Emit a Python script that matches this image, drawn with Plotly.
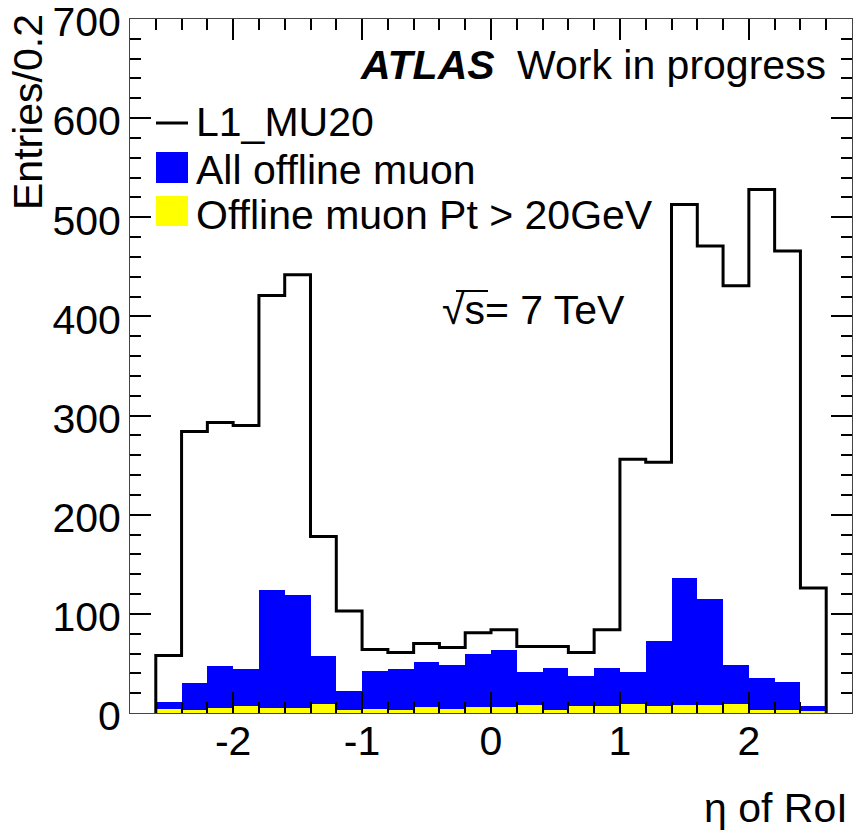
import plotly.graph_objects as go

# ---- data ----
eta_edges = [-2.6, -2.4, -2.2, -2.0, -1.8, -1.6, -1.4, -1.2, -1.0, -0.8, -0.6, -0.4, -0.2,
             0.0, 0.2, 0.4, 0.6, 0.8, 1.0, 1.2, 1.4, 1.6, 1.8, 2.0, 2.2, 2.4, 2.6]
l1_mu20 = [58, 284, 293, 290, 421, 442, 178, 103, 64, 61, 70, 66, 81,
           84, 67, 67, 61, 84, 256, 253, 513, 471, 431, 528, 466, 126]
all_offline = [11, 30, 47, 44, 124, 119, 57, 22, 42, 44, 51, 48, 60,
               64, 41, 45, 37, 45, 41, 73, 136, 115, 48, 35, 31, 7]
offline_pt20 = [4, 3, 5, 7, 5, 5, 9, 3, 4, 3, 6, 4, 6,
                6, 8, 3, 7, 7, 9, 7, 8, 8, 9, 3, 3, 2]
x_tickvals = [-2, -1, 0, 1, 2]
x_ticktext = ["-2", "-1", "0", "1", "2"]

centers = [(a + b) / 2 for a, b in zip(eta_edges[:-1], eta_edges[1:])]
widths = [b - a for a, b in zip(eta_edges[:-1], eta_edges[1:])]

# step outline for the L1 histogram
step_x = [eta_edges[0]] + eta_edges
step_y = [0] + l1_mu20 + [0]

FONT = "Liberation Sans, Arial, sans-serif"
FS = 41

W, H = 853, 830
ML, MR, MT, MB = 130, 1, 19, 117
PW, PH = W - ML - MR, H - MT - MB


def px(x):
    return (x - ML) / PW


def py(y):
    return (H - MB - y) / PH


fig = go.Figure()
fig.add_trace(go.Bar(x=centers, y=all_offline, width=widths, marker=dict(color="#0000ff", line=dict(width=0)),
                     name="All offline muon", showlegend=False))
fig.add_trace(go.Bar(x=centers, y=offline_pt20, width=widths, marker=dict(color="#ffff00", line=dict(width=0)),
                     name="Offline muon Pt > 20GeV", showlegend=False))
fig.add_trace(go.Scatter(x=step_x, y=step_y, mode="lines", line=dict(shape="hv", color="black", width=3),
                         name="L1_MU20", showlegend=False))

axis_common = dict(showline=True, linecolor="#444", linewidth=1, mirror="ticks", ticks="inside",
                   tickcolor="black", tickwidth=1.5, showgrid=False, zeroline=False,
                   ticklabeloverflow="allow", automargin=False,
                   tickfont=dict(family=FONT, size=FS, color="black"))

fig.update_xaxes(range=[-2.8, 2.8], tickmode="array", tickvals=x_tickvals, ticktext=x_ticktext,
                 ticklen=21, ticklabelstandoff=-8,
                 minor=dict(tickmode="linear", tick0=0, dtick=0.2, ticks="inside", ticklen=11,
                            tickcolor="black", tickwidth=1.5, showgrid=False),
                 **axis_common)
fig.update_yaxes(range=[0, 700], tickmode="linear", tick0=0, dtick=100, ticklen=21,
                 ticklabelshift=3, ticklabelstandoff=0,
                 minor=dict(tickmode="linear", tick0=0, dtick=20, ticks="inside", ticklen=11,
                            tickcolor="black", tickwidth=1.5, showgrid=False),
                 **axis_common)

ann = []


def text(t, x, y, xanchor="left", yanchor="middle", angle=0):
    ann.append(dict(text=t, x=px(x), y=py(y), xref="paper", yref="paper", xanchor=xanchor, yanchor=yanchor,
                    showarrow=False, textangle=angle, font=dict(family=FONT, size=FS, color="black")))


text("<b><i>ATLAS</i></b>", 358, 65)
text("Work in progress", 515, 65)
text("L1_MU20", 194, 122)
text("All offline muon", 194, 170)
text("Offline muon Pt &gt; 20GeV", 194, 215)
text("√s= 7 TeV", 440, 310)
text("η of RoI", 850, 808, xanchor="right")
text("Entries/0.2", 28, 112, xanchor="center", angle=-90)

shapes = [
    dict(type="line", xref="paper", yref="paper", x0=px(156), x1=px(188), y0=py(123), y1=py(123),
         line=dict(color="black", width=3)),
    dict(type="rect", xref="paper", yref="paper", x0=px(156), x1=px(188), y0=py(152), y1=py(183),
         fillcolor="#0000ff", line=dict(width=0)),
    dict(type="rect", xref="paper", yref="paper", x0=px(156), x1=px(188), y0=py(196), y1=py(226),
         fillcolor="#ffff00", line=dict(width=0)),
    dict(type="line", xref="paper", yref="paper", x0=px(456), x1=px(488), y0=py(291), y1=py(291),
         line=dict(color="black", width=2)),
]

fig.update_layout(width=W, height=H, margin=dict(l=ML, r=MR, t=MT, b=MB, pad=0, autoexpand=False),
                  paper_bgcolor="white", plot_bgcolor="white", barmode="overlay", bargap=0,
                  showlegend=False, annotations=ann, shapes=shapes,
                  font=dict(family=FONT, size=FS, color="black"))

fig.write_html("out.html")
